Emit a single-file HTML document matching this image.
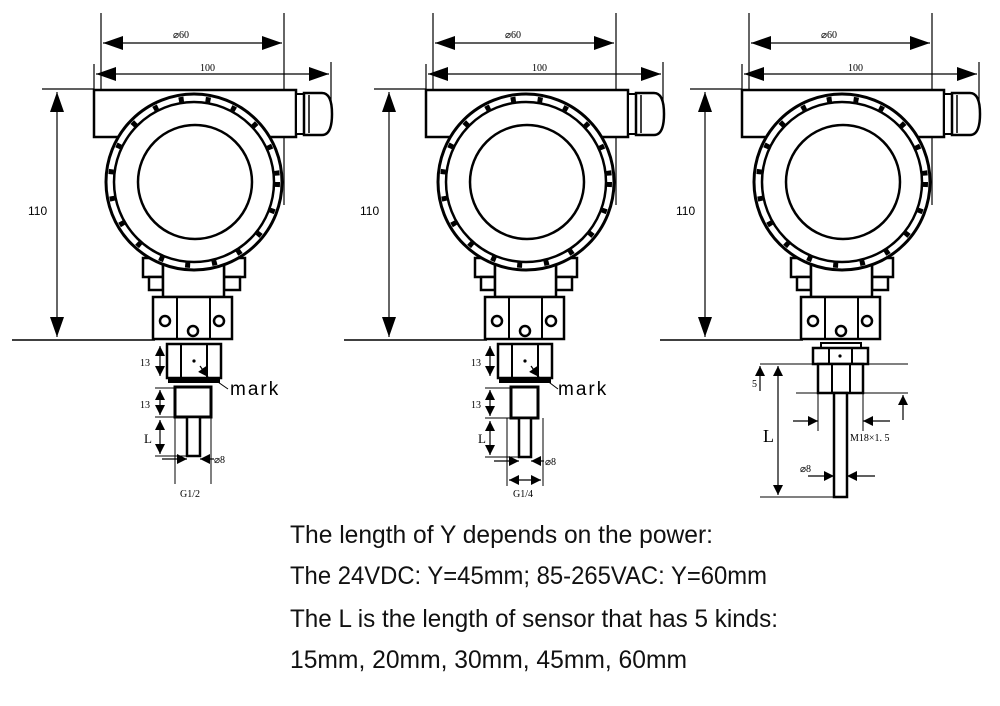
<!DOCTYPE html>
<html><head><meta charset="utf-8"><style>html,body{margin:0;padding:0;background:#fff}svg{display:block}</style></head>
<body>
<svg width="1000" height="706" viewBox="0 0 1000 706" xmlns="http://www.w3.org/2000/svg">
<defs>
<marker id="a" viewBox="0 0 10 10" refX="10" refY="5" markerWidth="10" markerHeight="10" markerUnits="userSpaceOnUse" orient="auto-start-reverse"><path d="M0,0 L10,5 L0,10 z" fill="#000"/></marker>
<marker id="A" viewBox="0 0 10 10" refX="10" refY="5" markerWidth="20" markerHeight="14" markerUnits="userSpaceOnUse" orient="auto-start-reverse" preserveAspectRatio="none"><path d="M0,0 L10,5 L0,10 z" fill="#000"/></marker>
<g id="head" fill="#fff" stroke="#000">
  <line x1="101" y1="13" x2="101" y2="92" stroke-width="1.2"/>
  <line x1="284" y1="13" x2="284" y2="205" stroke-width="1.2"/>
  <line x1="94" y1="64" x2="94" y2="92" stroke-width="1.2"/>
  <line x1="331" y1="62" x2="331" y2="112" stroke-width="1.2"/>
  <line x1="103" y1="43" x2="282" y2="43" stroke-width="1.2" marker-start="url(#A)" marker-end="url(#A)"/>
  <line x1="96" y1="74" x2="329" y2="74" stroke-width="1.2" marker-start="url(#A)" marker-end="url(#A)"/>
  <line x1="42" y1="89" x2="94" y2="89" stroke-width="1.2"/>
  <line x1="12" y1="340" x2="155" y2="340" stroke-width="1.5"/>
  <line x1="57" y1="92" x2="57" y2="337" stroke-width="1.2" marker-start="url(#A)" marker-end="url(#A)"/>
  <rect x="94" y="90" width="202" height="47" stroke-width="2.5"/>
  <rect x="296" y="94" width="8" height="40" stroke-width="2"/>
  <path d="M304,93 H322 Q332,93 332,114 Q332,135 322,135 H304 Z" stroke-width="2.5"/>
  <line x1="309" y1="95" x2="309" y2="133" stroke-width="1.5"/>
  <rect x="143" y="258" width="20" height="19" stroke-width="2.5"/>
  <rect x="149" y="277" width="14" height="13" stroke-width="2.5"/>
  <rect x="224" y="258" width="21" height="19" stroke-width="2.5"/>
  <rect x="224" y="277" width="16" height="13" stroke-width="2.5"/>
  <rect x="163" y="262" width="61" height="35" stroke-width="2.5"/>
  <circle cx="194" cy="182" r="88" stroke-width="3"/>
  <circle cx="194" cy="182" r="80" stroke-width="2.5" fill="none"/>
  <circle cx="194" cy="182" r="83.5" stroke-width="5" fill="none" stroke-dasharray="5 22"/>
  <circle cx="195" cy="182" r="57" stroke-width="2.5"/>
  <rect x="153" y="297" width="79" height="42" stroke-width="2.5"/>
  <line x1="177" y1="297" x2="177" y2="339" stroke-width="2"/>
  <line x1="210" y1="297" x2="210" y2="339" stroke-width="2"/>
  <circle cx="165" cy="321" r="5" stroke-width="2.5"/>
  <circle cx="219" cy="321" r="5" stroke-width="2.5"/>
  <circle cx="193" cy="331" r="5" stroke-width="2.5"/>
</g>
</defs>
<g font-family="Liberation Serif, serif" font-size="10" fill="#000">
<use href="#head"/>
<use href="#head" x="332"/>
<use href="#head" x="648"/>
<text x="173" y="38">⌀60</text><text x="505" y="38">⌀60</text><text x="821" y="38">⌀60</text>
<text x="200" y="71">100</text><text x="532" y="71">100</text><text x="848" y="71">100</text>
<g font-family="Liberation Sans, sans-serif" font-size="12"><text x="28" y="215">110</text><text x="360" y="215">110</text><text x="676" y="215">110</text></g>
</g>
<!-- panel 1 lower -->
<g fill="#fff" stroke="#000">
  <rect x="167" y="344" width="54" height="34" stroke-width="2.5"/>
  <line x1="181" y1="344" x2="181" y2="378" stroke-width="2"/><line x1="207" y1="344" x2="207" y2="378" stroke-width="2"/>
  <rect x="169" y="378" width="50" height="4" stroke-width="2" fill="#000"/>
  <rect x="175" y="387" width="36" height="30" stroke-width="3"/>
  <rect x="187" y="417" width="13" height="39" stroke-width="2.5"/>
  <line x1="175" y1="417" x2="175" y2="484" stroke-width="1"/><line x1="211" y1="417" x2="211" y2="484" stroke-width="1"/>
  <line x1="160" y1="346" x2="160" y2="376" stroke-width="1.2" marker-start="url(#a)" marker-end="url(#a)"/>
  <line x1="155" y1="388" x2="175" y2="388" stroke-width="1"/>
  <line x1="160" y1="390" x2="160" y2="415" stroke-width="1.2" marker-start="url(#a)" marker-end="url(#a)"/>
  <line x1="155" y1="417" x2="187" y2="417" stroke-width="1"/>
  <line x1="160" y1="420" x2="160" y2="454" stroke-width="1.2" marker-start="url(#a)" marker-end="url(#a)"/>
  <line x1="155" y1="456" x2="187" y2="456" stroke-width="1"/>
  <line x1="162" y1="459" x2="187" y2="459" stroke-width="1.2" marker-end="url(#a)"/>
  <line x1="214" y1="459" x2="200" y2="459" stroke-width="1.2" marker-end="url(#a)"/>
  <line x1="200" y1="366" x2="208" y2="377" stroke-width="1.2" marker-end="url(#a)"/>
  <line x1="215" y1="380" x2="228" y2="389" stroke-width="1"/>
</g>
<circle cx="194" cy="361" r="1.6"/>
<!-- panel 2 lower -->
<g fill="#fff" stroke="#000">
  <rect x="498" y="344" width="54" height="34" stroke-width="2.5"/>
  <line x1="512" y1="344" x2="512" y2="378" stroke-width="2"/><line x1="538" y1="344" x2="538" y2="378" stroke-width="2"/>
  <rect x="500" y="378" width="50" height="4" stroke-width="2" fill="#000"/>
  <rect x="511" y="387" width="27" height="31" stroke-width="3"/>
  <rect x="519" y="418" width="12" height="39" stroke-width="2.5"/>
  <line x1="507" y1="418" x2="507" y2="486" stroke-width="1"/><line x1="543" y1="418" x2="543" y2="486" stroke-width="1"/>
  <line x1="490" y1="346" x2="490" y2="376" stroke-width="1.2" marker-start="url(#a)" marker-end="url(#a)"/>
  <line x1="485" y1="388" x2="511" y2="388" stroke-width="1"/>
  <line x1="490" y1="390" x2="490" y2="416" stroke-width="1.2" marker-start="url(#a)" marker-end="url(#a)"/>
  <line x1="485" y1="418" x2="519" y2="418" stroke-width="1"/>
  <line x1="490" y1="421" x2="490" y2="455" stroke-width="1.2" marker-start="url(#a)" marker-end="url(#a)"/>
  <line x1="485" y1="457" x2="519" y2="457" stroke-width="1"/>
  <line x1="494" y1="461" x2="519" y2="461" stroke-width="1.2" marker-end="url(#a)"/>
  <line x1="544" y1="461" x2="531" y2="461" stroke-width="1.2" marker-end="url(#a)"/>
  <line x1="509" y1="480" x2="541" y2="480" stroke-width="1.2" marker-start="url(#a)" marker-end="url(#a)"/>
  <line x1="531" y1="366" x2="539" y2="377" stroke-width="1.2" marker-end="url(#a)"/>
  <line x1="546" y1="380" x2="558" y2="389" stroke-width="1"/>
</g>
<circle cx="525" cy="361" r="1.6"/>
<!-- panel 3 lower -->
<g fill="#fff" stroke="#000">
  <rect x="821" y="343" width="40" height="5" stroke-width="2"/>
  <rect x="813" y="348" width="55" height="16" stroke-width="2.5"/>
  <line x1="829" y1="348" x2="829" y2="364" stroke-width="2"/><line x1="852" y1="348" x2="852" y2="364" stroke-width="2"/>
  <rect x="818" y="364" width="45" height="29" stroke-width="2.5"/>
  <line x1="832" y1="364" x2="832" y2="393" stroke-width="2"/><line x1="850" y1="364" x2="850" y2="393" stroke-width="2"/>
  <rect x="834" y="393" width="13" height="104" stroke-width="2.5"/>
  <line x1="760" y1="364" x2="908" y2="364" stroke-width="1"/>
  <line x1="796" y1="393" x2="908" y2="393" stroke-width="1"/>
  <line x1="760" y1="497" x2="834" y2="497" stroke-width="1"/>
  <line x1="818" y1="393" x2="818" y2="431" stroke-width="1"/><line x1="863" y1="393" x2="863" y2="431" stroke-width="1"/>
  <line x1="778" y1="366" x2="778" y2="495" stroke-width="1.2" marker-start="url(#a)" marker-end="url(#a)"/>
  <line x1="760" y1="391" x2="760" y2="366" stroke-width="1.2" marker-end="url(#a)"/>
  <line x1="903" y1="420" x2="903" y2="395" stroke-width="1.2" marker-end="url(#a)"/>
  <line x1="793" y1="421" x2="818" y2="421" stroke-width="1.2" marker-end="url(#a)"/>
  <line x1="890" y1="421" x2="863" y2="421" stroke-width="1.2" marker-end="url(#a)"/>
  <line x1="808" y1="476" x2="834" y2="476" stroke-width="1.2" marker-end="url(#a)"/>
  <line x1="875" y1="476" x2="847" y2="476" stroke-width="1.2" marker-end="url(#a)"/>
</g>
<circle cx="840" cy="356" r="1.6"/>
<g font-family="Liberation Serif, serif" font-size="10" fill="#000">
  <text x="140" y="366">13</text><text x="140" y="408">13</text><text x="144" y="443" font-size="13">L</text>
  <text x="214" y="463">⌀8</text><text x="180" y="497">G1/2</text>
  <text x="471" y="366">13</text><text x="471" y="408">13</text><text x="478" y="443" font-size="13">L</text>
  <text x="545" y="465">⌀8</text><text x="513" y="497">G1/4</text>
  <text x="752" y="387">5</text><text x="763" y="442" font-size="18">L</text>
  <text x="850" y="441">M18×1. 5</text><text x="800" y="472">⌀8</text>
</g>
<g font-family="Liberation Sans, sans-serif" font-size="19" fill="#000" letter-spacing="2">
  <text x="230" y="395">mark</text><text x="558" y="395">mark</text>
</g>
<g font-family="Liberation Sans, sans-serif" font-size="25" fill="#111">
  <text x="290" y="543" textLength="423" lengthAdjust="spacingAndGlyphs">The length of Y depends on the power:</text>
  <text x="290" y="584" textLength="477" lengthAdjust="spacingAndGlyphs">The 24VDC: Y=45mm; 85-265VAC: Y=60mm</text>
  <text x="290" y="627" textLength="488" lengthAdjust="spacingAndGlyphs">The L is the length of sensor that has 5 kinds:</text>
  <text x="290" y="668" textLength="397" lengthAdjust="spacingAndGlyphs">15mm, 20mm, 30mm, 45mm, 60mm</text>
</g>
</svg>
</body></html>
